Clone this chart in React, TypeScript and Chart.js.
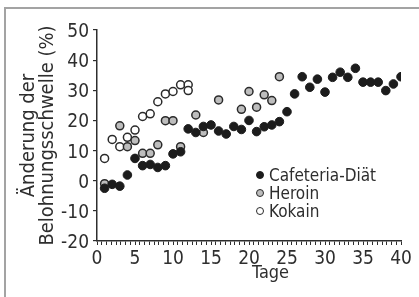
import React, { useEffect, useRef } from "react";
import { Chart, registerables } from "chart.js";

Chart.register(...registerables);

// ---- data ----
const seriesNames = ["Cafeteria-Diät", "Heroin", "Kokain"];

const cafeteriaDays = [
  1, 2, 3, 4, 5, 6, 7, 8, 9, 10, 11, 12, 13, 14, 15, 16, 17, 18, 19, 20,
  21, 22, 23, 24, 25, 26, 27, 28, 29, 30, 31, 32, 33, 34, 35, 36, 37, 38, 39, 40,
];
const cafeteriaValues = [
  -2.5, -1.2, -1.8, 1.9, 7.4, 5, 5.4, 4.4, 5, 8.9, 9.6, 17.2, 16, 18, 18.5, 16.5, 15.5, 18, 17, 20,
  16.3, 17.9, 18.5, 19.6, 22.9, 28.8, 34.5, 31, 33.7, 29.4, 34.3, 36, 34.3, 37.3, 32.7, 32.7, 32.7, 29.9, 32.1, 34.5,
];

const heroinDays = [1, 3, 4, 5, 6, 7, 8, 9, 10, 11, 13, 14, 16, 19, 20, 21, 22, 23, 24];
const heroinValues = [-1, 18.2, 11.3, 13.3, 9.1, 9.1, 11.9, 19.9, 19.9, 11.3, 21.8, 16, 26.8, 23.7, 29.6, 24.4, 28.5, 26.6, 34.5];

const kokainDays = [1, 2, 3, 4, 5, 6, 7, 8, 9, 10, 11, 12, 12];
const kokainValues = [7.4, 13.7, 11.3, 14.4, 16.8, 21.3, 22.2, 26.2, 28.8, 29.6, 31.8, 31.8, 29.9];

const xTickLabels = [0, 5, 10, 15, 20, 25, 30, 35, 40];
const yTickLabels = [-20, -10, 0, 10, 20, 30, 40, 50];
const xTitle = "Tage";
const yTitle = ["Änderung der", "Belohnungsschwelle (%)"];

// ---- styles ----
const FONT = "'Liberation Sans Narrow', 'DejaVu Sans Condensed', 'Arial Narrow', sans-serif";
const INK = "#2e2e2e";
const markerStyles = [
  { fill: "#1c1c1c", stroke: "#1c1c1c" },
  { fill: "#bdbdbd", stroke: "#2a2a2a" },
  { fill: "#ffffff", stroke: "#2a2a2a" },
];

const toPoints = (xs: number[], ys: number[]) => xs.map((x, i) => ({ x, y: ys[i] }));

export default function App() {
  const canvasRef = useRef<HTMLCanvasElement | null>(null);

  useEffect(() => {
    const canvas = canvasRef.current;
    if (!canvas) return;
    const xMin = xTickLabels[0];
    const xMax = xTickLabels[xTickLabels.length - 1];
    const yMin = yTickLabels[0];
    const yMax = yTickLabels[yTickLabels.length - 1];

    const chart = new Chart(canvas, {
      type: "scatter",
      data: {
        datasets: [
          {
            label: seriesNames[0],
            data: toPoints(cafeteriaDays, cafeteriaValues),
            backgroundColor: markerStyles[0].fill,
            borderColor: markerStyles[0].stroke,
            borderWidth: 1,
            pointRadius: 4.3,
          },
          {
            label: seriesNames[1],
            data: toPoints(heroinDays, heroinValues),
            backgroundColor: markerStyles[1].fill,
            borderColor: markerStyles[1].stroke,
            borderWidth: 1.5,
            pointRadius: 4,
          },
          {
            label: seriesNames[2],
            data: toPoints(kokainDays, kokainValues),
            backgroundColor: markerStyles[2].fill,
            borderColor: markerStyles[2].stroke,
            borderWidth: 1.5,
            pointRadius: 4,
          },
        ],
      },
      options: {
        animation: false,
        responsive: false,
        maintainAspectRatio: false,
        layout: { padding: { left: 0, right: 18, top: 30, bottom: 0 } },
        plugins: { legend: { display: false }, tooltip: { enabled: false } },
        scales: {
          x: {
            type: "linear",
            min: xMin,
            max: xMax,
            afterFit: (s: any) => {
              s.height = 56;
            },
            border: { display: true, color: INK, width: 1.5 },
            grid: { drawOnChartArea: false, drawTicks: true, tickLength: 4, color: INK, lineWidth: 1 },
            ticks: {
              stepSize: 0.625,
              autoSkip: false,
              minRotation: 0,
              maxRotation: 0,
              padding: 3,
              color: INK,
              font: { family: FONT, size: 19 },
              callback: (v: any) => (xTickLabels.includes(Number(v)) ? String(v) : ""),
            },
          },
          y: {
            type: "linear",
            min: yMin,
            max: yMax,
            afterFit: (s: any) => {
              s.width = 97;
            },
            border: { display: true, color: INK, width: 1.5 },
            grid: { drawOnChartArea: false, drawTicks: true, tickLength: 4, color: INK, lineWidth: 1.2 },
            ticks: {
              stepSize: 10,
              padding: 4,
              labelOffset: 2,
              color: INK,
              font: { family: FONT, size: 19 },
              callback: (v: any) => (yTickLabels.includes(Number(v)) ? String(v) : ""),
            },
            title: {
              display: true,
              text: yTitle,
              color: INK,
              font: { family: FONT, size: 20, lineHeight: 0.95 },
              padding: { top: 19, bottom: 0 },
            },
          },
        },
      },
    });
    return () => chart.destroy();
  }, []);

  const legendRows = [175, 193, 211];

  return (
    <div style={{ position: "fixed", left: 0, top: 0, width: 419, height: 297, background: "#fff", overflow: "hidden" }}>
      <div
        style={{
          position: "absolute",
          left: 4,
          top: 7,
          width: 520,
          height: 400,
          border: "2px solid #a3a3a3",
        }}
      />
      <canvas ref={canvasRef} width={419} height={297} style={{ position: "absolute", left: 0, top: 0, width: 419, height: 297 }} />
      {seriesNames.map((name, i) => (
        <div
          key={name}
          style={{
            position: "absolute",
            left: 256,
            top: legendRows[i] - 11,
            height: 22,
            display: "flex",
            alignItems: "center",
            fontFamily: FONT,
            fontSize: 17,
            color: INK,
            whiteSpace: "nowrap",
          }}
        >
          <span
            style={{
              display: "inline-block",
              width: 6,
              height: 6,
              borderRadius: "50%",
              background: markerStyles[i].fill,
              border: `1.3px solid ${markerStyles[i].stroke}`,
              marginRight: 5,
            }}
          />
          <span>{name}</span>
        </div>
      ))}
      <div
        style={{
          position: "absolute",
          left: 252,
          top: 262,
          fontFamily: FONT,
          fontSize: 18,
          color: INK,
          lineHeight: "20px",
        }}
      >
        {xTitle}
      </div>
    </div>
  );
}
